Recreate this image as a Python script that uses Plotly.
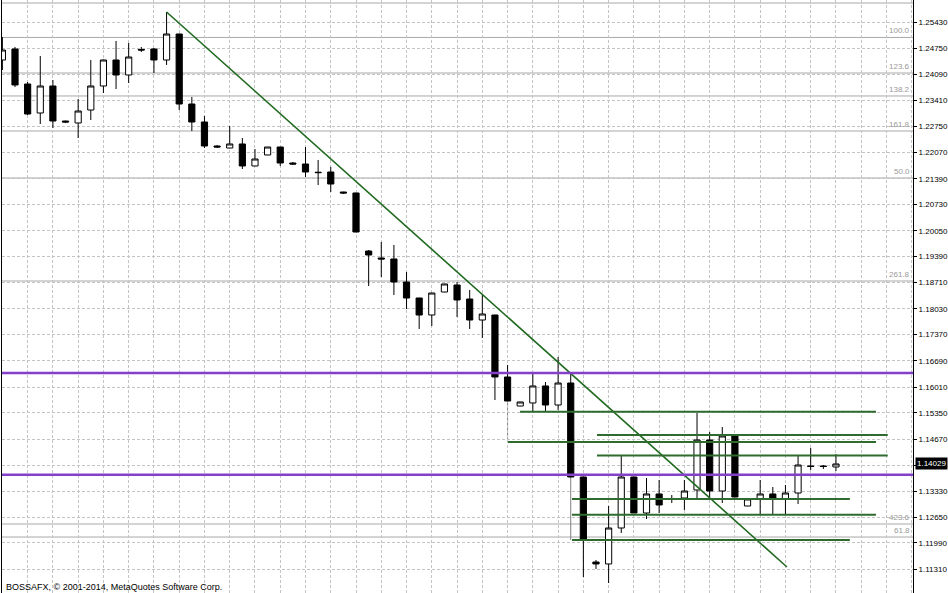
import plotly.graph_objects as go

# ---- candle data (EURUSD-like) ----
idx = list(range(67))
opens = [1.24457, 1.24741, 1.23837, 1.23089, 1.23786, 1.22882, 1.22831, 1.23166, 1.23786, 1.24457,
         1.24070, 1.24728, 1.24741, 1.24457, 1.25128, 1.23321, 1.22856, 1.22237, 1.22185, 1.22289,
         1.21721, 1.22005, 1.22211, 1.21798, 1.21772, 1.21560, 1.21566, 1.21049, 1.21024, 1.19526,
         1.19346, 1.19320, 1.18726, 1.18313, 1.17874, 1.18468, 1.18649, 1.18287, 1.17745, 1.17874,
         1.16274, 1.15525, 1.15603, 1.16042, 1.15551, 1.16119, 1.13692, 1.11498, 1.11447, 1.12376,
         1.13692, 1.12763, 1.13254, 1.13125, 1.13150, 1.13357, 1.14648, 1.13331, 1.14751, 1.12944,
         1.13125, 1.13254, 1.13125, 1.13279, 1.13976, 1.13976, 1.13951]
highs = [1.25051, 1.24792, 1.23889, 1.24560, 1.23941, 1.22890, 1.23450, 1.24457, 1.24470, 1.24947,
         1.24896, 1.24792, 1.24767, 1.25696, 1.25135, 1.23502, 1.23011, 1.22263, 1.22753, 1.22443,
         1.22159, 1.22211, 1.22215, 1.21824, 1.22211, 1.21876, 1.21695, 1.21055, 1.21030, 1.19552,
         1.19759, 1.19681, 1.18984, 1.18320, 1.18448, 1.18680, 1.18726, 1.18520, 1.18391, 1.17880,
         1.16584, 1.15635, 1.16377, 1.16145, 1.16790, 1.16377, 1.13700, 1.11550, 1.12944, 1.14260,
         1.13700, 1.13667, 1.13615, 1.13228, 1.13615, 1.15345, 1.14854, 1.14983, 1.14760, 1.13130,
         1.13615, 1.13434, 1.13486, 1.14260, 1.14441, 1.14002, 1.14286]
lows = [1.24199, 1.23760, 1.23037, 1.22805, 1.22702, 1.22831, 1.22443, 1.22908, 1.23605, 1.23708,
        1.23863, 1.24663, 1.24121, 1.24328, 1.23166, 1.22624, 1.22185, 1.22185, 1.22180, 1.21643,
        1.21715, 1.22000, 1.21721, 1.21746, 1.21437, 1.21230, 1.21049, 1.20998, 1.20010, 1.18623,
        1.18855, 1.18391, 1.18029, 1.17513, 1.17590, 1.18460, 1.17823, 1.17513, 1.17281, 1.15680,
        1.15650, 1.15520, 1.15370, 1.15370, 1.15422, 1.13690, 1.11111, 1.11318, 1.10956, 1.12247,
        1.12760, 1.12608, 1.12763, 1.13021, 1.12841, 1.13125, 1.13176, 1.13021, 1.13170, 1.12940,
        1.12712, 1.12712, 1.12712, 1.12995, 1.13873, 1.13899, 1.13847]
closes = [1.24715, 1.23812, 1.23063, 1.23786, 1.22882, 1.22856, 1.23140, 1.23786, 1.24457, 1.24070,
          1.24534, 1.24715, 1.24457, 1.25128, 1.23321, 1.22856, 1.22237, 1.22211, 1.22289, 1.21721,
          1.21901, 1.22211, 1.21798, 1.21772, 1.21566, 1.21550, 1.21256, 1.21024, 1.20017, 1.19423,
          1.19320, 1.18726, 1.18313, 1.17874, 1.18442, 1.18675, 1.18262, 1.17745, 1.17900, 1.16274,
          1.15654, 1.15629, 1.16042, 1.15551, 1.16119, 1.13692, 1.12092, 1.11447, 1.12376, 1.13692,
          1.12763, 1.13254, 1.12970, 1.13112, 1.13331, 1.14648, 1.13331, 1.14751, 1.13176, 1.13125,
          1.13254, 1.13150, 1.13279, 1.14002, 1.13964, 1.13964, 1.14029]

# ---- axis ticks ----
tick_vals = [1.25430, 1.24750, 1.24090, 1.23410, 1.22750, 1.22070, 1.21390, 1.20730, 1.20050,
             1.19390, 1.18710, 1.18030, 1.17370, 1.16690, 1.16010, 1.15350, 1.14670, 1.14000,
             1.13330, 1.12650, 1.11990, 1.11310, 1.10630]
tick_text = ["1.25430", "1.24750", "1.24090", "1.23410", "1.22750", "1.22070", "1.21390", "1.20730",
             "1.20050", "1.19390", "1.18710", "1.18030", "1.17370", "1.16690", "1.16010", "1.15350",
             "1.14670", "", "1.13330", "1.12650", "1.11990", "1.11310", "1.10630"]
bid_price = 1.14029

# ---- drawn objects ----
fib_levels = [1.25928, 1.25039, 1.24121, 1.23528, 1.22624, 1.21411, 1.18752, 1.12479, 1.12143]
fib_labels = ["", "100.0", "123.6", "138.2", "161.8", "50.0", "261.8", "423.6", "61.8"]
purple_levels = [1.16377, 1.13752]
green_levels = [1.15378, 1.14777, 1.14596, 1.14247, 1.13125, 1.12719, 1.12066]
green_start = [40.98, 47.08, 40.03, 47.08, 45.1, 45.1, 45.1]
green_end = [69.17, 70.1, 69.17, 70.1, 67.1, 69.17, 67.1]
trend_x = [13, 62.12]
trend_y = [1.25696, 1.11369]
anchor_x = [40, 45]
anchor_top = [1.15654, 1.13692]
anchor_bottom = [1.14596, 1.12066]

fig = go.Figure()
fig.add_trace(go.Candlestick(
    x=idx, open=opens, high=highs, low=lows, close=closes,
    increasing=dict(fillcolor="white", line=dict(color="black", width=1)),
    decreasing=dict(fillcolor="black", line=dict(color="black", width=1)),
    whiskerwidth=0, showlegend=False, hoverinfo="skip"))

fig.add_trace(go.Scatter(x=trend_x, y=trend_y, mode="lines",
                         line=dict(color="#1f6a1f", width=1.6), showlegend=False, hoverinfo="skip"))

shapes = []
for lv in fib_levels:
    shapes.append(dict(type="line", xref="paper", x0=0, x1=1, yref="y", y0=lv, y1=lv,
                       line=dict(color="#a8a8a8", width=1), layer="below"))
for xs, yt, yb in zip(anchor_x, anchor_top, anchor_bottom):
    shapes.append(dict(type="line", xref="x", x0=xs, x1=xs, yref="y", y0=yt, y1=yb,
                       line=dict(color="#808080", width=1), layer="below"))
for lv, s, e in zip(green_levels, green_start, green_end):
    shapes.append(dict(type="line", xref="x", x0=s, x1=e, yref="y", y0=lv, y1=lv,
                       line=dict(color="#2f6b2f", width=2), layer="above"))
for lv in purple_levels:
    shapes.append(dict(type="line", xref="paper", x0=0, x1=1, yref="y", y0=lv, y1=lv,
                       line=dict(color="#8440c8", width=2.5), layer="above"))

annotations = []
for lv, lab in zip(fib_levels, fib_labels):
    if lab:
        annotations.append(dict(xref="paper", x=1, xanchor="right", xshift=-1, yref="y", y=lv,
                                yanchor="bottom", text=lab, showarrow=False,
                                font=dict(family="Liberation Sans", size=8, color="#999999")))
annotations.append(dict(xref="paper", x=1, xanchor="left", xshift=2, yref="y", y=bid_price,
                        yanchor="middle", text="1.14029", showarrow=False, bgcolor="black",
                        borderpad=1, font=dict(family="Liberation Sans", size=8, color="white")))
annotations.append(dict(xref="paper", x=1, xanchor="left", xshift=4, yref="y", y=1.26110,
                        yanchor="middle", text="1.26110", showarrow=False,
                        font=dict(family="Liberation Sans", size=8, color="black")))
annotations.append(dict(xref="paper", x=0, xanchor="left", xshift=2, yref="paper", y=0,
                        yanchor="bottom", yshift=-1, text="BOSSAFX, © 2001-2014, MetaQuotes Software Corp.",
                        showarrow=False, font=dict(family="Liberation Sans", size=9, color="black")))

fig.update_layout(
    width=948, height=593,
    margin=dict(l=2, r=35, t=0, b=0),
    paper_bgcolor="white", plot_bgcolor="white",
    shapes=shapes, annotations=annotations,
    showlegend=False,
    xaxis=dict(range=[-0.03, 72.1], rangeslider=dict(visible=False), showticklabels=False,
               tickvals=list(range(0, 73, 2)), ticks="", showgrid=True, gridcolor="#c4c4c4",
               griddash="3px,2px", gridwidth=1, zeroline=False, showline=False),
    yaxis=dict(range=[1.106979, 1.260057], side="right", tickvals=tick_vals, ticktext=tick_text,
               showgrid=True, gridcolor="#c4c4c4", griddash="3px,2px", gridwidth=1,
               zeroline=False, showline=True, linecolor="black", linewidth=1, mirror=True,
               ticks="outside", ticklen=3, tickcolor="black", automargin=False,
               tickfont=dict(family="Liberation Sans", size=8, color="black")),
)

fig.write_html("out.html", config={"displayModeBar": False},
               post_script="document.body.style.margin='0';document.body.style.overflow='hidden';")
